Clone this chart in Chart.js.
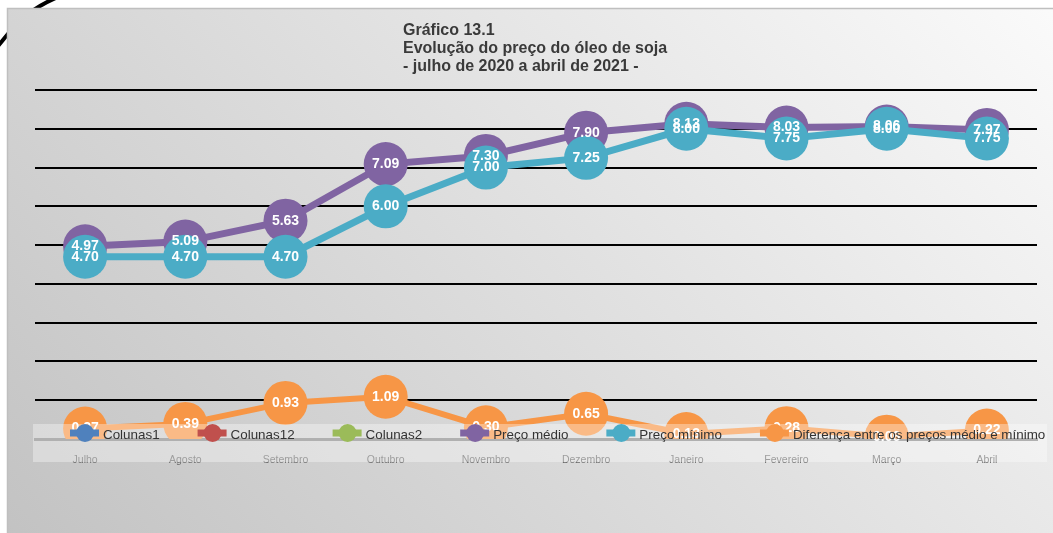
<!DOCTYPE html>
<html>
<head>
<meta charset="utf-8">
<script src="https://cdn.jsdelivr.net/npm/chart.js@4.4.1/dist/chart.umd.min.js"></script>
<style>
html,body{margin:0;padding:0;background:#fff;}
canvas{display:block;}
</style>
</head>
<body>
<canvas id="c" width="1053" height="533"></canvas>
<script>
const titleLines = ["Gráfico 13.1", "Evolução do preço do óleo de soja", "- julho de 2020 a abril de 2021 -"];
const categories = ["Julho","Agosto","Setembro","Outubro","Novembro","Dezembro","Janeiro","Fevereiro","Março","Abril"];
const precoMedio = [4.97, 5.09, 5.63, 7.09, 7.30, 7.90, 8.13, 8.03, 8.06, 7.97];
const precoMinimo = [4.70, 4.70, 4.70, 6.00, 7.00, 7.25, 8.00, 7.75, 8.00, 7.75];
const diferenca = [0.27, 0.39, 0.93, 1.09, 0.30, 0.65, 0.13, 0.28, 0.06, 0.22];
const colunas1 = [];
const colunas12 = [];
const colunas2 = [];
const yTicks = [0,1,2,3,4,5,6,7,8,9];

const FONT = "'Liberation Sans', Arial, sans-serif";

const bgPlugin = {
  id: 'bg',
  beforeDraw(chart) {
    const ctx = chart.ctx;
    ctx.save();
    ctx.strokeStyle = '#000';
    ctx.lineWidth = 4;
    ctx.beginPath();
    ctx.moveTo(-2, 46);
    ctx.bezierCurveTo(10, 32, 22, 12, 58, -3);
    ctx.stroke();
    const g = ctx.createLinearGradient(1000, -100, 150, 700);
    g.addColorStop(0, '#fcfcfc');
    g.addColorStop(1, '#c2c2c2');
    ctx.fillStyle = g;
    ctx.fillRect(7, 8, 1060, 540);
    ctx.strokeStyle = '#bfbfbf';
    ctx.lineWidth = 1.5;
    ctx.strokeRect(7.5, 8.5, 1060, 540);
    ctx.fillStyle = '#3a3a3a';
    ctx.font = 'bold 16px ' + FONT;
    ctx.textAlign = 'left';
    ctx.textBaseline = 'middle';
    titleLines.forEach((t, i) => ctx.fillText(t, 403, 31 + i * 18));
    ctx.restore();
  }
};

const labelPlugin = {
  id: 'labels',
  afterDatasetsDraw(chart) {
    const ctx = chart.ctx;
    ctx.save();
    ctx.fillStyle = '#fff';
    ctx.font = 'bold 14px ' + FONT;
    ctx.textAlign = 'center';
    ctx.textBaseline = 'middle';
    [3, 4, 5].forEach(di => {
      const ds = chart.data.datasets[di];
      const meta = chart.getDatasetMeta(di);
      meta.data.forEach((pt, i) => {
        ctx.fillText(ds.data[i].toFixed(2), pt.x, pt.y);
      });
    });
    ctx.restore();
  }
};

const legendPlugin = {
  id: 'customLegend',
  afterDraw(chart) {
    const ctx = chart.ctx;
    ctx.save();
    ctx.fillStyle = 'rgba(255,255,255,0.35)';
    ctx.fillRect(33, 424, 1014, 38);
    ctx.font = '13.4px ' + FONT;
    ctx.textBaseline = 'middle';
    ctx.textAlign = 'left';
    let cx = 85;
    const cy = 433;
    chart.data.datasets.forEach(ds => {
      ctx.strokeStyle = ds.borderColor;
      ctx.lineWidth = 7;
      ctx.beginPath();
      ctx.moveTo(cx - 15, cy);
      ctx.lineTo(cx + 14, cy);
      ctx.stroke();
      ctx.fillStyle = ds.borderColor;
      ctx.beginPath();
      ctx.arc(cx, cy, 9, 0, Math.PI * 2);
      ctx.fill();
      ctx.fillStyle = '#333333';
      const tx = cx + 18;
      ctx.fillText(ds.label, tx, cy + 2);
      cx = tx + ctx.measureText(ds.label).width + 53;
    });
    ctx.restore();
  }
};

function lineDs(label, data, color, order, width) {
  return {
    label, data, order,
    borderColor: color,
    backgroundColor: color,
    pointBackgroundColor: color,
    pointBorderWidth: 0,
    pointRadius: 22,
    pointHoverRadius: 22,
    borderWidth: width,
    tension: 0
  };
}

new Chart(document.getElementById('c'), {
  type: 'line',
  data: {
    labels: categories,
    datasets: [
      lineDs('Colunas1', colunas1, '#4F81BD', 5, 6),
      lineDs('Colunas12', colunas12, '#C0504D', 5, 6),
      lineDs('Colunas2', colunas2, '#9BBB59', 5, 6),
      lineDs('Preço médio', precoMedio, '#8064A2', 3, 7),
      lineDs('Preço mínimo', precoMinimo, '#4BACC6', 2, 7),
      lineDs('Diferença entre os preços médio e mínimo', diferenca, '#F79646', 1, 6)
    ]
  },
  options: {
    responsive: false,
    animation: false,
    events: [],
    layout: { autoPadding: false, padding: { left: 35, right: 16, top: 90, bottom: 0 } },
    plugins: { legend: { display: false }, tooltip: { enabled: false }, title: { display: false } },
    scales: {
      x: {
        offset: true,
        grid: { display: false, drawTicks: false },
        border: { display: true, color: '#868686', width: 3 },
        ticks: { color: '#6a6a6a', font: { family: FONT, size: 10.5 }, padding: 15, maxRotation: 0, autoSkip: false },
        afterFit: s => { s.height = 94; }
      },
      y: {
        min: 0, max: 9,
        afterBuildTicks: s => { s.ticks = yTicks.map(v => ({ value: v })); },
        ticks: { display: false },
        grid: {
          drawTicks: false,
          lineWidth: 2,
          color: c => (c.tick && c.tick.value === 0) ? 'rgba(0,0,0,0)' : '#000'
        },
        border: { display: false },
        afterFit: s => { s.width = 0; }
      }
    }
  },
  plugins: [bgPlugin, labelPlugin, legendPlugin]
});
</script>
</body>
</html>
